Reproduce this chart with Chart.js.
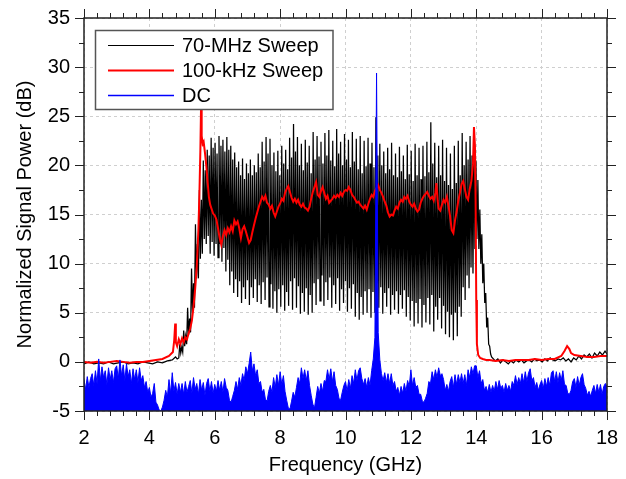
<!DOCTYPE html>
<html>
<head>
<meta charset="utf-8">
<script src="https://cdn.jsdelivr.net/npm/chart.js@4.4.1/dist/chart.umd.min.js"></script>
<style>
html,body{margin:0;padding:0;background:#fff;}
#wrap{width:626px;height:479px;position:relative;}
</style>
</head>
<body>
<div id="wrap"><canvas id="c" width="626" height="479"></canvas></div>
<script>
// ---------------- DATA ----------------
const xTickValues = [2, 4, 6, 8, 10, 12, 14, 16, 18];
const yTickValues = [-5, 0, 5, 10, 15, 20, 25, 30, 35];

// 70-MHz Sweep (black)
const sweep70Freq = [
 2.00,2.15,2.30,2.45,2.60,2.75,2.90,3.05,3.20,3.35,3.50,3.65,3.80,3.95,4.10,4.25,4.40,4.55,4.70,4.80,4.85,
 4.90,4.93,4.96,4.99,5.02,5.05,5.08,5.11,5.14,5.17,5.20,5.23,5.26,5.29,5.32,5.35,5.38,5.41,5.44,5.47,
 5.50,5.53,5.56,5.59,5.62,5.65,5.68,5.71,5.74,5.77,5.80,5.83,5.86,5.89,5.92,5.95,5.98,6.01,6.04,6.07,
 6.10,6.13,6.16,6.19,6.22,6.25,6.28,6.31,6.34,6.37,6.40,6.43,6.46,6.49,6.52,6.55,6.58,6.61,6.64,6.67,
 6.70,6.73,6.76,6.79,6.82,6.85,6.88,6.91,6.94,6.97,7.00,7.03,7.06,7.09,7.12,7.15,7.18,7.21,7.24,7.27,
 7.30,7.33,7.36,7.39,7.42,7.45,7.48,7.51,7.54,7.57,7.60,7.63,7.66,7.69,7.72,7.75,7.78,7.81,7.84,7.87,
 7.90,7.93,7.96,7.99,8.02,8.05,8.08,8.11,8.14,8.17,8.20,8.23,8.26,8.29,8.32,8.35,8.38,8.41,8.44,8.47,
 8.50,8.53,8.56,8.59,8.62,8.65,8.68,8.71,8.74,8.77,8.80,8.83,8.86,8.89,8.92,8.95,8.98,9.01,9.04,9.07,
 9.10,9.13,9.16,9.19,9.22,9.25,9.28,9.31,9.34,9.37,9.40,9.43,9.46,9.49,9.52,9.55,9.58,9.61,9.64,9.67,
 9.70,9.73,9.76,9.79,9.82,9.85,9.88,9.91,9.94,9.97,10.00,10.03,10.06,10.09,10.12,10.15,10.18,10.21,10.24,10.27,
 10.30,10.33,10.36,10.39,10.42,10.45,10.48,10.51,10.54,10.57,10.60,10.63,10.66,10.69,10.72,10.75,10.78,10.81,10.84,10.87,
 10.90,10.93,10.96,10.99,11.02,11.05,11.08,11.11,11.14,11.17,11.20,11.23,11.26,11.29,11.32,11.35,11.38,11.41,11.44,11.47,
 11.50,11.53,11.56,11.59,11.62,11.65,11.68,11.71,11.74,11.77,11.80,11.83,11.86,11.89,11.92,11.95,11.98,12.01,12.04,12.07,
 12.10,12.13,12.16,12.19,12.22,12.25,12.28,12.31,12.34,12.37,12.40,12.43,12.46,12.49,12.52,12.55,12.58,12.61,12.64,12.67,
 12.70,12.73,12.76,12.79,12.82,12.85,12.88,12.91,12.94,12.97,13.00,13.03,13.06,13.09,13.12,13.15,13.18,13.21,13.24,13.27,
 13.30,13.33,13.36,13.39,13.42,13.45,13.48,13.51,13.54,13.57,13.60,13.63,13.66,13.69,13.72,13.75,13.78,13.81,13.84,13.87,
 13.90,13.93,13.96,13.99,14.02,14.05,14.08,14.11,14.14,14.17,14.20,14.23,14.26,14.29,14.32,14.35,14.38,14.41,14.44,14.47,
 14.58,14.66,14.74,14.82,14.90,14.98,15.06,15.14,15.22,15.30,15.38,15.46,15.54,15.62,15.70,15.78,15.86,15.94,16.02,
 16.10,16.18,16.26,16.34,16.42,16.50,16.58,16.66,16.74,16.82,16.90,16.98,17.06,17.14,17.22,17.30,17.38,17.46,17.54,17.62,
 17.70,17.78,17.86,17.94,18.00
];
const sweep70Power = [
 -0.2,0.0,-0.2,-0.1,-0.2,0.0,-0.2,-0.1,0.0,-0.2,-0.1,-0.2,0.0,-0.1,-0.2,0.0,-0.1,0.1,0.2,0.5,0.3,
 0.4,1.8,0.9,1.5, 1.0,3.2,1.6,2.6, 1.8,5.5,2.8,4.4, 3.0,9.5,5.0,8.0, 5.5,14.0,8.5,12.0,
 8.5,17.5,10.5,16.5, 11.0,20.5,12.5,19.5, 12.0,21.6,12.8,21.0, 11.0,22.8,12.2,21.8, 10.8,22.3,12.0,21.2,
 10.6,23.0,12.0,22.0, 10.2,22.6,11.6,21.4, 9.2,22.9,10.4,21.6, 7.8,22.0,9.2,20.6, 7.0,21.3,8.4,19.8,
 6.6,20.4,8.2,19.0, 6.0,20.7,7.6,18.6, 6.4,20.2,8.3,19.2, 5.8,20.6,7.6,19.0, 6.5,20.0,8.4,19.3,
 6.1,21.2,7.8,19.8, 5.9,22.4,8.1,20.4, 6.3,22.9,8.6,21.2, 5.6,22.7,7.9,20.0, 5.4,21.3,7.2,19.4,
 5.0,21.5,7.4,19.0, 5.6,22.0,7.8,20.2, 5.2,21.6,7.1,19.6, 5.7,22.8,8.2,20.8, 5.3,24.2,8.5,21.4,
 5.5,22.9,7.7,20.0, 4.9,22.2,7.0,19.5, 5.1,22.6,7.5,20.3, 4.8,22.0,6.8,19.2, 5.0,23.4,8.0,20.6,
 5.8,23.0,8.4,20.9, 6.2,22.4,8.8,20.2, 5.7,23.3,8.1,21.0, 6.3,23.6,8.6,20.5, 5.5,22.5,7.8,19.9,
 5.9,23.7,8.5,21.2, 5.2,22.4,7.4,20.0, 6.0,23.2,8.2,20.6, 5.1,22.6,7.5,19.8, 5.4,23.4,7.9,20.4,
 4.6,22.7,7.0,19.6, 4.3,23.0,6.6,19.2, 4.8,22.5,7.2,19.9, 5.0,22.8,7.4,20.2, 4.5,22.3,7.1,19.8,
 5.0,24.9,8.0,21.0, 5.5,22.2,7.6,20.0, 4.9,21.4,7.0,19.2, 5.6,21.8,7.5,19.6, 4.8,22.3,6.8,19.0,
 5.3,21.2,7.2,18.8, 4.9,21.9,6.8,19.4, 5.4,21.0,7.3,18.6, 4.6,22.1,6.6,19.1, 4.2,21.5,6.2,18.4,
 3.6,22.2,6.0,19.0, 3.9,21.8,6.4,18.6, 3.5,22.0,5.8,18.9, 4.0,22.4,6.5,19.3, 3.8,24.4,6.8,20.2,
 3.1,22.3,5.6,18.8, 4.3,22.0,6.5,19.0, 3.4,22.6,5.7,18.4, 2.8,21.8,5.1,18.0, 2.5,21.2,4.8,17.6,
 2.2,22.0,5.0,18.2, 2.6,22.5,5.6,19.0, 4.6,23.3,7.6,20.0, 6.3,22.4,8.8,20.6, 7.5,23.0,9.6,21.0,
 9.0,22.6,11.5,20.5, 12.5,18.5,11.5,15.5, 10.0,13.0,8.0,10.0, 6.0,7.0,3.5,4.5, 1.8,1.6,0.8,0.5,
 0.1,0.3,-0.1,0.2,0.0,-0.2,0.1,-0.1,0.2,0.0,0.2,-0.1,0.1,0.2,0.0,0.3,0.1,0.2,0.0,
 0.3,0.1,0.4,0.2,0.1,0.3,0.2,0.4,0.1,0.3,0.0,0.4,0.2,0.6,0.3,0.7,0.5,0.8,0.4,0.9,
 0.6,1.0,0.7,1.1,0.8
];

// 100-kHz Sweep (red)
const sweep100kFreq = [
 2.0,2.2,2.4,2.6,2.8,3.0,3.2,3.4,3.6,3.8,4.0,4.2,4.4,4.6,4.72,4.76,4.79,4.81,4.85,4.9,
 4.95,5.0,5.05,5.1,5.15,5.2,5.25,5.3,5.35,5.4,5.45,5.5,5.53,5.56,5.58,5.6,5.63,5.66,5.7,5.74,
 5.78,5.82,5.86,5.9,5.95,6.0,6.05,6.1,6.15,6.2,6.25,6.3,6.35,6.4,6.45,6.5,6.55,6.6,6.65,6.7,
 6.75,6.8,6.85,6.9,6.95,7.0,7.05,7.1,7.15,7.2,7.25,7.3,7.35,7.4,7.45,7.5,7.55,7.6,7.65,7.7,
 7.75,7.8,7.85,7.9,7.95,8.0,8.05,8.1,8.15,8.2,8.25,8.3,8.35,8.4,8.45,8.5,8.55,8.6,8.65,8.7,
 8.75,8.8,8.85,8.9,8.95,9.0,9.05,9.1,9.15,9.2,9.25,9.3,9.35,9.4,9.45,9.5,9.55,9.6,9.65,9.7,
 9.75,9.8,9.85,9.9,9.95,10.0,10.05,10.1,10.15,10.2,10.25,10.3,10.35,10.4,10.45,10.5,10.55,10.6,10.65,10.7,
 10.75,10.8,10.85,10.9,10.95,11.0,11.05,11.1,11.15,11.2,11.25,11.3,11.35,11.4,11.45,11.5,11.55,11.6,11.65,11.7,
 11.75,11.8,11.85,11.9,11.95,12.0,12.05,12.1,12.15,12.2,12.25,12.3,12.35,12.4,12.45,12.5,12.55,12.6,12.65,12.7,
 12.75,12.78,12.82,12.85,12.9,12.95,13.0,13.05,13.1,13.15,13.2,13.25,13.3,13.35,13.4,13.45,13.5,13.55,13.6,13.65,
 13.7,13.75,13.8,13.85,13.9,13.93,13.96,13.98,14.0,14.02,14.06,14.12,14.2,14.3,14.4,14.6,14.8,15.0,15.2,15.4,
 15.6,15.8,16.0,16.2,16.4,16.6,16.7,16.78,16.85,16.9,17.0,17.2,17.4,17.6,17.8,18.0
];
const sweep100kPower = [
 0.0,-0.1,0.0,-0.1,0.0,0.1,0.0,-0.1,0.0,0.0,0.1,0.2,0.3,0.6,1.0,2.2,3.9,2.0,1.6,2.3,
 1.8,2.4,2.0,2.5,2.3,2.9,3.4,4.2,5.6,7.4,9.7,13.5,17.0,21.5,25.8,23.0,22.2,22.4,21.3,20.0,
 18.4,16.8,16.0,15.6,15.1,14.9,14.5,13.6,12.6,11.9,12.8,13.4,12.9,13.6,13.2,13.8,13.3,14.4,14.0,14.3,
 13.6,12.6,13.5,13.8,13.3,12.7,12.1,12.4,13.2,13.9,14.6,15.2,15.8,16.3,16.8,16.5,16.9,16.2,16.0,15.6,
 15.9,15.2,14.8,15.3,15.8,16.1,16.6,16.4,17.2,17.6,17.9,17.3,16.7,16.3,16.6,16.2,16.5,16.0,15.8,16.1,
 15.7,15.6,15.4,15.8,16.6,17.3,17.8,18.3,17.0,16.8,17.4,17.8,17.2,16.6,16.9,16.2,16.4,16.6,16.9,16.7,
 17.0,16.8,17.2,16.9,17.3,17.5,17.4,17.8,17.5,17.0,16.8,16.5,16.2,16.3,16.0,15.8,15.6,15.9,15.5,16.1,
 16.6,17.0,16.8,17.4,17.7,18.0,17.5,17.2,16.8,16.3,15.9,15.2,14.8,15.0,14.9,15.4,15.8,15.6,16.2,16.5,
 16.3,16.8,16.6,16.9,16.3,16.0,15.8,16.1,15.6,15.3,15.5,16.2,16.6,16.9,17.1,17.3,16.9,16.6,16.8,16.4,
 17.2,18.2,16.4,15.6,15.4,16.0,16.5,16.2,16.8,15.9,14.8,13.4,13.1,14.4,15.3,16.4,17.2,18.1,18.4,17.6,
 16.8,16.5,17.6,18.4,20.1,23.9,22.0,16.5,6.3,1.8,0.7,0.4,0.3,0.2,0.2,0.1,0.2,0.1,0.2,0.2,
 0.2,0.3,0.2,0.3,0.3,0.6,1.1,1.6,1.3,0.9,0.7,0.6,0.5,0.5,0.6,0.6
];

// DC (blue)
const dcFreq = [
 2.00,2.05,2.10,2.15,2.20,2.25,2.30,2.35,2.40,2.45,2.50,2.55,2.60,2.65,2.70,2.75,2.80,2.85,2.90,2.95,
 3.00,3.05,3.10,3.15,3.20,3.25,3.30,3.35,3.40,3.45,3.50,3.55,3.60,3.65,3.70,3.75,3.80,3.85,3.90,3.95,
 4.00,4.05,4.10,4.15,4.20,4.25,4.30,4.35,4.40,4.45,4.50,4.55,4.60,4.65,4.70,4.75,4.80,4.85,4.90,4.95,
 5.00,5.05,5.10,5.15,5.20,5.25,5.30,5.35,5.40,5.45,5.50,5.55,5.60,5.65,5.70,5.75,5.80,5.85,5.90,5.95,
 6.00,6.05,6.10,6.15,6.20,6.25,6.30,6.35,6.40,6.45,6.50,6.55,6.60,6.65,6.70,6.75,6.80,6.85,6.90,6.95,
 7.00,7.05,7.10,7.15,7.20,7.25,7.30,7.35,7.40,7.45,7.50,7.55,7.60,7.65,7.70,7.75,7.80,7.85,7.90,7.95,
 8.00,8.05,8.10,8.15,8.20,8.25,8.30,8.35,8.40,8.45,8.50,8.55,8.60,8.65,8.70,8.75,8.80,8.85,8.90,8.95,
 9.00,9.05,9.10,9.15,9.20,9.25,9.30,9.35,9.40,9.45,9.50,9.55,9.60,9.65,9.70,9.75,9.80,9.85,9.90,9.95,
 10.00,10.05,10.10,10.15,10.20,10.25,10.30,10.35,10.40,10.45,10.50,10.55,10.60,10.65,10.70,10.75,10.80,10.85,10.90,10.95,
 11.00,11.05,11.10,11.15,11.20,11.25,11.30,11.35,11.40,11.45,11.50,11.55,11.60,11.65,11.70,11.75,11.80,11.85,11.90,11.95,
 12.00,12.05,12.10,12.15,12.20,12.25,12.30,12.35,12.40,12.45,12.50,12.55,12.60,12.65,12.70,12.75,12.80,12.85,12.90,12.95,
 13.00,13.05,13.10,13.15,13.20,13.25,13.30,13.35,13.40,13.45,13.50,13.55,13.60,13.65,13.70,13.75,13.80,13.85,13.90,13.95,
 14.00,14.05,14.10,14.15,14.20,14.25,14.30,14.35,14.40,14.45,14.50,14.55,14.60,14.65,14.70,14.75,14.80,14.85,14.90,14.95,
 15.00,15.05,15.10,15.15,15.20,15.25,15.30,15.35,15.40,15.45,15.50,15.55,15.60,15.65,15.70,15.75,15.80,15.85,15.90,15.95,
 16.00,16.05,16.10,16.15,16.20,16.25,16.30,16.35,16.40,16.45,16.50,16.55,16.60,16.65,16.70,16.75,16.80,16.85,16.90,16.95,
 17.00,17.05,17.10,17.15,17.20,17.25,17.30,17.35,17.40,17.45,17.50,17.55,17.60,17.65,17.70,17.75,17.80,17.85,17.90,17.95,
 18.00
];
const dcPower = [
 -1.8,-2.8,-1.5,-2.6,-1.7,-1.2,-2.4,-0.9,-2.2,0.3,-1.9,-0.5,-1.6,-0.9,-2.3,-0.6,-1.8,-0.9,-2.1,-0.7,
 -0.4,-1.7,0.2,-1.4,-0.3,-1.9,-0.2,-1.5,-0.8,-2.2,-0.7,-1.8,-0.8,-2.1,-0.6,-1.9,-1.4,-2.6,-2.0,-3.1,
 -2.6,-3.6,-3.2,-2.2,-4.1,-4.4,-4.9,-5.0,-4.6,-3.9,-2.9,-3.6,-1.8,-3.2,-1.1,-3.0,-2.1,-3.3,-2.2,-3.1,
 -2.2,-3.3,-2.0,-3.1,-2.5,-1.9,-3.2,-1.6,-2.8,-2.2,-3.3,-1.8,-2.9,-2.1,-3.4,-2.2,-1.7,-3.0,-2.0,-3.2,
 -2.3,-3.0,-1.9,-2.9,-2.0,-3.1,-1.7,-2.6,-2.9,-3.9,-4.1,-3.5,-2.9,-2.0,-2.8,-1.6,-2.4,-1.2,-1.9,-0.5,
 -1.2,-0.2,1.0,-0.9,-0.2,-1.4,-0.8,-2.2,-2.0,-3.1,-2.8,-3.8,-4.0,-3.0,-2.4,-3.1,-1.6,-2.6,-1.3,-2.4,
 -1.0,-2.3,-1.4,-3.0,-3.9,-4.7,-4.8,-4.0,-3.1,-3.6,-2.6,-1.6,-2.2,-0.6,-1.7,-0.8,-1.9,-0.9,-2.4,-3.4,
 -4.3,-4.7,-3.6,-2.5,-3.2,-2.2,-3.0,-1.9,-2.0,-0.8,-1.8,-0.7,-2.0,-1.0,-2.4,-2.8,-3.7,-3.9,-3.1,-2.4,
 -2.0,-3.0,-1.8,-2.7,-1.4,-2.2,-0.8,-1.9,-0.9,-0.6,-1.7,-2.3,-1.7,-2.6,-1.6,-2.4,-0.9,0.3,2.5,29.4,
 3.0,0.2,-1.2,-1.9,-1.1,-2.1,-1.2,-2.2,-1.2,-2.4,-2.0,-3.0,-2.6,-3.4,-2.5,-3.2,-2.2,-3.0,-1.9,-2.5,
 -0.8,-2.4,-1.6,-2.6,-2.4,-3.3,-3.3,-4.0,-4.1,-3.7,-3.2,-2.0,-2.2,-1.0,-1.8,-0.8,-1.6,-0.6,-1.4,-1.2,
 -1.8,-2.9,-2.3,-3.0,-2.0,-1.5,-2.6,-1.3,-2.3,-1.3,-2.1,-1.2,-2.2,-1.3,-2.4,-0.8,-1.6,-0.5,-1.2,-0.4,
 -0.4,-1.6,-0.9,-2.2,-1.8,-2.9,-2.5,-3.1,-2.3,-3.1,-2.4,-3.0,-2.0,-2.8,-1.9,-2.7,-2.4,-3.1,-2.2,-2.9,
 -2.4,-3.0,-2.0,-2.4,-1.4,-2.3,-1.6,-2.2,-1.2,-2.1,-1.0,-2.0,-1.1,-0.7,-1.9,-1.6,-2.6,-2.1,-2.9,-2.3,
 -1.9,-2.7,-1.7,-2.5,-1.6,-2.4,-1.1,-0.9,-2.0,-1.0,-2.1,-1.1,-1.9,-0.9,-2.3,-2.4,-3.2,-3.3,-2.9,-2.0,
 -1.7,-2.6,-1.5,-2.4,-1.6,-1.2,-2.3,-2.7,-3.4,-3.0,-3.5,-2.9,-2.4,-3.2,-2.3,-3.1,-2.3,-3.3,-2.5,-2.2,
 -2.5
];

const seriesLabels = ['70-MHz Sweep', '100-kHz Sweep', 'DC'];

// ---------------- CHART ----------------
const chartFont = '"Liberation Sans", Arial, Helvetica, sans-serif';
function pts(xs, ys) { return xs.map((x, i) => ({ x: x, y: ys[i] })); }

const frameAndTicks = {
  id: 'frameAndTicks',
  afterDraw(chart) {
    const { ctx, chartArea: a, scales: { x, y } } = chart;
    ctx.save();
    ctx.strokeStyle = '#222';
    ctx.lineWidth = 1;
    ctx.beginPath();
    for (let k = 0; k <= 16; k++) {
      const v = -5 + 2.5 * k;
      const py = Math.round(y.getPixelForValue(v)) + 0.5;
      const len = (k % 2 === 0) ? 9 : 5;
      ctx.moveTo(a.left, py); ctx.lineTo(a.left - len, py);
      ctx.moveTo(a.right, py); ctx.lineTo(a.right + len, py);
    }
    for (let k = 0; k <= 40; k++) {
      const f = 2 + 0.4 * k;
      const px = Math.round(x.getPixelForValue(f)) + 0.5;
      const len = (k % 5 === 0) ? 9 : 5;
      ctx.moveTo(px, a.bottom); ctx.lineTo(px, a.bottom + len);
      ctx.moveTo(px, a.top); ctx.lineTo(px, a.top - len);
    }
    ctx.stroke();
    ctx.lineWidth = 1.5;
    ctx.strokeRect(a.left, a.top, a.right - a.left, a.bottom - a.top);
    ctx.restore();
  }
};

const boxLegend = {
  id: 'boxLegend',
  afterDraw(chart) {
    const ctx = chart.ctx;
    const L = 95.5, T = 30.5, W = 237.5, H = 79;
    ctx.save();
    ctx.fillStyle = '#fff';
    ctx.fillRect(L, T, W, H);
    ctx.strokeStyle = '#555';
    ctx.lineWidth = 1.5;
    ctx.strokeRect(L, T, W, H);
    ctx.font = '20px ' + chartFont;
    ctx.textBaseline = 'middle';
    ctx.textAlign = 'left';
    const sorted = chart.data.datasets.slice().sort((p, q) => p.legendIndex - q.legendIndex);
    sorted.forEach((ds, i) => {
      const yy = 45.5 + i * 25;
      ctx.strokeStyle = ds.borderColor;
      ctx.lineWidth = ds.legendLineWidth;
      ctx.beginPath(); ctx.moveTo(108, yy); ctx.lineTo(174, yy); ctx.stroke();
      ctx.fillStyle = '#000';
      ctx.fillText(ds.label, 182, yy + 1);
    });
    ctx.restore();
  }
};

const ctx = document.getElementById('c').getContext('2d');
new Chart(ctx, {
  type: 'line',
  data: {
    datasets: [
      { label: seriesLabels[0], data: pts(sweep70Freq, sweep70Power), borderColor: '#000000', borderWidth: 1.25,
        pointRadius: 0, fill: false, order: 3, legendIndex: 0, legendLineWidth: 1.2, tension: 0 },
      { label: seriesLabels[1], data: pts(sweep100kFreq, sweep100kPower), borderColor: '#ff0000', borderWidth: 2,
        pointRadius: 0, fill: false, order: 2, legendIndex: 1, legendLineWidth: 2, tension: 0 },
      { label: seriesLabels[2], data: pts(dcFreq, dcPower), borderColor: '#0000ff', backgroundColor: '#0000ff', borderWidth: 1,
        pointRadius: 0, fill: 'start', order: 1, legendIndex: 2, legendLineWidth: 1.5, tension: 0 }
    ]
  },
  options: {
    responsive: false,
    animation: false,
    devicePixelRatio: 1,
    layout: { padding: { left: 0, top: 18, right: 19, bottom: 0 } },
    plugins: { legend: { display: false }, tooltip: { enabled: false } },
    scales: {
      x: {
        type: 'linear', min: 2, max: 18,
        afterBuildTicks: s => { s.ticks = xTickValues.map(v => ({ value: v })); },
        afterFit: s => { s.height = 68; s.paddingLeft = 0; s.paddingRight = 0; },
        ticks: { color: '#000', font: { family: chartFont, size: 20 }, padding: 15, maxRotation: 0, autoSkip: false },
        grid: { color: '#cfcfcf', lineWidth: 1, drawTicks: false },
        border: { display: false, dash: [3, 3] },
        title: { display: true, text: 'Frequency (GHz)', color: '#000', font: { family: chartFont, size: 20 }, padding: { top: 0, bottom: 2 } }
      },
      y: {
        type: 'linear', min: -5, max: 35,
        afterBuildTicks: s => { s.ticks = yTickValues.map(v => ({ value: v })); },
        afterFit: s => { s.width = 84; s.paddingTop = 0; s.paddingBottom = 0; },
        ticks: { color: '#000', font: { family: chartFont, size: 20 }, padding: 14, autoSkip: false },
        grid: { color: '#cfcfcf', lineWidth: 1, drawTicks: false },
        border: { display: false, dash: [3, 3] },
        title: { display: true, text: 'Normalized Signal Power (dB)', color: '#000', font: { family: chartFont, size: 20 }, padding: { top: 13, bottom: 0 } }
      }
    }
  },
  plugins: [frameAndTicks, boxLegend]
});
</script>
</body>
</html>
